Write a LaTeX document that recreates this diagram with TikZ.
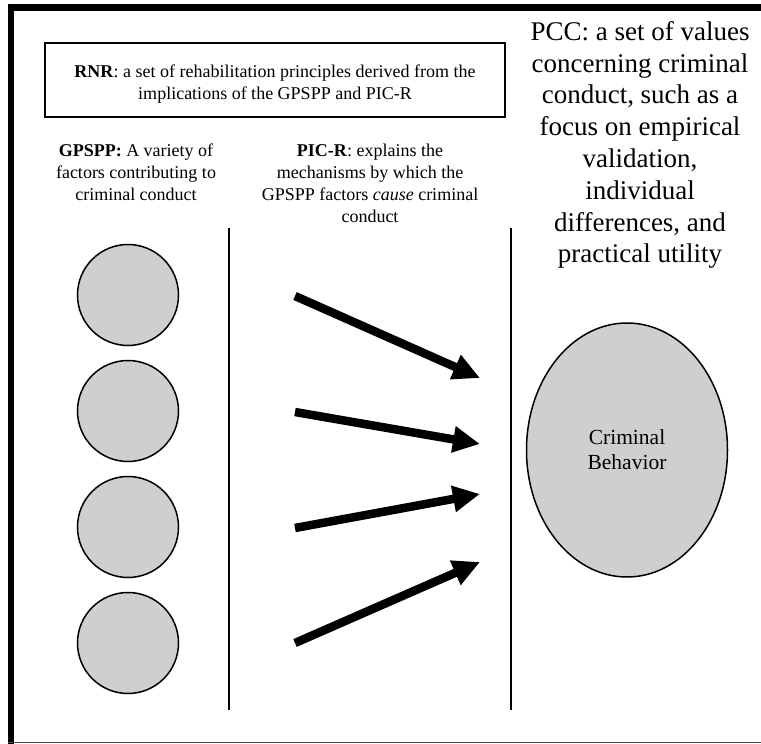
\documentclass[tikz,border=0pt]{standalone}
\usepackage{fontspec}
\setmainfont{Liberation Serif}
\usetikzlibrary{arrows.meta,shapes.geometric}
\begin{document}
\begin{tikzpicture}[x=1pt,y=-1pt,
  factor/.style={circle,draw,line width=1.5pt,fill=black!19,minimum size=101pt,inner sep=0pt},
  outcome/.style={ellipse,draw,line width=1.5pt,fill=black!19,minimum width=201pt,minimum height=254pt,inner sep=0pt,align=center,font=\fontsize{21.5}{25}\selectfont},
  vline/.style={line width=1.5pt},
  bigarrow/.style={line width=8.5pt,-{Triangle[length=27pt,width=25pt]}},
  smalltext/.style={font=\fontsize{18}{22}\selectfont,align=center,inner sep=0pt},
  bigtext/.style={font=\fontsize{27}{31.8}\selectfont,align=center,inner sep=0pt},
  framebox/.style={draw,line width=1.5pt,minimum width=460pt,minimum height=74pt,inner sep=0pt}
]
\useasboundingbox (0,0) rectangle (761,744);
\fill[white] (0,0) rectangle (761,744);
% outer frame
\fill[black] (8,4) rectangle (761,11);
\fill[black] (8,4) rectangle (14,744);
\draw[line width=1.5pt,black!70] (8,742.5) -- (761,742.5);

% RNR box
\node[framebox] (rnrbox) at (275,80) {};
\node[smalltext] (rnr) at (275,84) {\textbf{RNR}: a set of rehabilitation principles derived from the\\implications of the GPSPP and PIC-R};

% PCC
\node[bigtext] (pcc) at (640,145) {PCC: a set of values\\concerning criminal\\conduct, such as a\\focus on empirical\\validation,\\individual\\differences, and\\practical utility};

% GPSPP
\node[smalltext] (gpspp) at (136,172) {\textbf{GPSPP:} A variety of\\factors contributing to\\criminal conduct};
% PIC-R
\node[smalltext] (picr) at (370,183) {\textbf{PIC-R}: explains the\\mechanisms by which the\\GPSPP factors \textit{cause} criminal\\conduct};

% vertical lines
\coordinate (v1t) at (229,228);
\coordinate (v1b) at (229,710);
\coordinate (v2t) at (511,228);
\coordinate (v2b) at (511,710);
\draw[vline] (v1t) -- (v1b);
\draw[vline] (v2t) -- (v2b);

% factor circles
\node[factor] (c1) at (128,295) {};
\node[factor] (c2) at (128,411) {};
\node[factor] (c3) at (128,527) {};
\node[factor] (c4) at (128,643) {};

% outcome
\node[outcome] (cb) at (627,450) {Criminal\\Behavior};

% arrows
\coordinate (a1s) at (295,296);
\coordinate (a1e) at (480,378);
\coordinate (a2s) at (295,412);
\coordinate (a2e) at (480,444);
\coordinate (a3s) at (295,528);
\coordinate (a3e) at (480,494);
\coordinate (a4s) at (295,643);
\coordinate (a4e) at (480,562);
\draw[bigarrow] (a1s) -- (a1e);
\draw[bigarrow] (a2s) -- (a2e);
\draw[bigarrow] (a3s) -- (a3e);
\draw[bigarrow] (a4s) -- (a4e);
\end{tikzpicture}
\end{document}
